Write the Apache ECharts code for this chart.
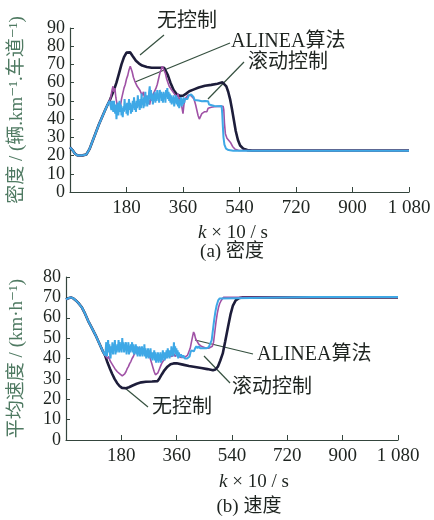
<!DOCTYPE html>
<html>
<head>
<meta charset="utf-8">
<script src="https://cdn.jsdelivr.net/npm/echarts@6/dist/echarts.min.js"></script>
<style>
  html, body { margin: 0; padding: 0; background: #fff; }
  #chart { width: 434px; height: 520px; }
</style>
</head>
<body>
<div id="chart"></div>
<script>
// x: k (×10 s), y: 密度 / 平均速度
const xTicks = [0, 180, 360, 540, 720, 900, 1080];

// (a) 密度 —— 三条曲线共同的起始段
const densStart = [[0,24.5],[8,23],[16,21],[25,20],[40,20.1],[52,20.6],[62,23.5],[72,28],[82,32.5],[92,37],[102,41],[112,45],[120,48],[126,50]];
const densNone = [[132,52.5],[140,56],[148,60],[156,65],[164,70],[172,74],[180,76.5],[186,77.2],[192,76.6],[200,74.5],[210,72],[220,70.5],[230,69.4],[245,68.6],[260,68.2],[280,68.2],[300,68.2],[306,67.5],[312,64],[320,60],[330,56],[340,53.6],[350,52.8],[360,52.8],[370,54],[380,55.3],[395,56.3],[410,57.3],[430,58.3],[450,58.8],[470,59.4],[486,60.2],[492,59.8],[498,58],[504,55],[510,51],[516,45.5],[522,39.5],[528,33.5],[535,28.5],[542,25.5],[552,23.8],[565,23],[580,22.8],[800,22.8],[1080,22.8]];
const densAlinea = [[130,52],[134,56],[137,58],[140,55],[143,57],[146,52],[150,48],[154,45],[157,49],[160,46],[164,51],[168,54],[172,57],[176,59],[180,62],[184,64],[188,67],[192,69],[195,68],[198,66],[202,63],[206,61],[210,62],[214,58],[218,59],[222,56],[226,57],[230,53],[234,55],[238,51],[242,53],[246,49],[250,51],[254,48],[258,52],[262,50],[266,54],[270,53],[274,57],[278,59],[282,62],[286,65],[290,67],[294,69],[297,70],[300,68],[304,65],[308,62],[312,60],[316,58],[320,59],[324,56],[328,57],[332,54],[336,55],[340,52],[344,54],[348,50],[352,52],[356,47],[360,43],[363,48],[366,51],[370,52],[375,53],[380,52.5],[385,53],[390,52],[395,51],[400,48],[404,45],[408,42],[412,40],[416,41],[420,43],[424,42],[428,44],[432,45],[436,44],[440,46],[450,46.5],[460,46.8],[470,47],[488,47],[490,45],[492,38],[495,32],[500,29.5],[506,28.5],[512,27],[518,25],[526,23.5],[538,22.8],[800,22.8],[1080,22.8]];
const densRolling = [[128,49],[130,51],[132,45],[134,50],[136,47],[138,44],[140,50],[142,46],[144,43],[146,48],[148,40],[150,46],[152,49],[154,42],[156,47],[158,50],[160,44],[162,48],[164,42],[166,46],[168,41],[170,47],[172,44],[174,51],[176,45],[178,48],[180,43],[182,49],[184,42],[186,47],[188,51],[190,45],[192,49],[194,43],[196,48],[198,44],[200,50],[202,46],[204,52],[206,45],[208,49],[210,44],[212,50],[214,46],[216,53],[218,47],[220,50],[222,45],[224,51],[226,46],[228,54],[230,48],[232,51],[234,46],[236,52],[238,47],[240,55],[242,49],[244,52],[246,47],[248,53],[250,48],[252,55],[254,58],[256,51],[258,56],[260,50],[262,54],[264,48],[266,53],[268,50],[270,55],[272,49],[274,54],[276,50],[278,56],[280,51],[282,54],[284,49],[286,56],[288,52],[290,55],[292,50],[294,54],[296,49],[298,55],[300,51],[302,54],[304,49],[306,56],[308,52],[310,57],[312,51],[314,55],[316,50],[318,54],[320,49],[322,53],[324,48],[326,52],[328,49],[330,53],[332,47],[334,52],[336,49],[338,53],[340,48],[342,52],[344,47],[346,51],[348,46],[350,50],[352,48],[354,52],[356,47],[358,51],[360,48],[362,52],[364,49],[366,51],[368,50],[370,52],[374,51],[378,53],[382,52],[386,53.5],[390,53],[394,52],[397,50.5],[400,50],[410,50.2],[420,49.8],[430,50],[440,49.8],[443,48],[446,47],[460,47.2],[470,47],[483,47.2],[485,43],[487,36],[489,30],[492,26],[497,23.8],[505,23],[520,22.6],[800,22.6],[1080,22.6]];

// (b) 速度 —— 共同起始段
const spdStart = [[0,69],[8,69.6],[16,70],[24,69.5],[32,68.5],[40,67.3],[52,65],[62,62],[72,58.5],[84,55],[96,51.5],[111,46.5],[120,43.5],[127,41.5]];
const spdNone = [[135,38],[143,35],[150,32.5],[158,30],[166,28],[174,26.5],[182,25.6],[188,25.3],[195,25.4],[205,25.9],[215,26.6],[230,27.6],[245,28.3],[260,28.6],[280,28.7],[298,28.9],[304,30.2],[312,32.3],[320,34.2],[330,36],[340,37.2],[350,37.6],[360,37.7],[380,37],[400,36.3],[420,35.8],[440,35.3],[460,34.8],[478,34.2],[486,34.6],[494,36],[502,39],[510,42.5],[518,48.5],[527,55.5],[535,61.5],[543,66],[552,68.5],[564,69.7],[575,70],[800,70],[1080,70]];
const spdAlinea = [[131,42],[135,40],[139,41],[143,39],[147,38],[151,37],[155,36],[159,35],[163,34.5],[167,33.5],[171,33],[175,32.5],[179,31.8],[183,31.5],[187,31.8],[191,32.5],[195,33.5],[199,35],[203,36],[207,37.5],[211,38.5],[215,40],[219,41],[223,42.5],[227,43],[231,44.5],[235,44],[239,45.5],[243,44],[247,45],[251,43],[255,44],[259,42],[263,43.5],[267,41],[271,42],[275,39.5],[279,37.5],[283,35.5],[287,33.5],[291,32],[295,31.8],[299,33],[303,34.5],[307,36],[311,37.5],[315,38.5],[320,39.5],[325,40.5],[330,41],[335,41.5],[340,42],[345,41],[350,42.5],[355,41],[360,42],[365,41],[370,41.5],[375,40.5],[380,41],[385,40.5],[390,41],[395,41.5],[400,42],[404,45],[408,48],[412,51],[415,53],[418,52],[421,50],[424,49],[428,48],[432,47],[436,46.5],[440,46],[448,45.5],[456,45],[464,45],[470,45.5],[476,46],[480,48],[484,53],[488,58],[492,62],[496,65],[500,67],[505,68.5],[512,70],[800,70],[1080,70]];
const spdRolling = [[129,44],[131,48],[133,41],[135,46],[137,49],[139,43],[141,47],[143,42],[145,40],[147,46],[149,43],[151,48],[153,42],[155,47],[157,44],[159,49],[161,42],[163,46],[165,43],[167,47],[169,44],[171,49],[173,43],[175,48],[177,44],[179,47],[181,43],[183,50],[185,45],[187,48],[189,43],[191,47],[193,44],[195,48],[197,42],[199,46],[201,44],[203,48],[205,42],[207,46],[209,43],[211,47],[213,44],[215,48],[217,43],[219,47],[221,42],[223,46],[225,43],[227,47],[229,42],[231,46],[233,41],[235,45],[237,42],[239,46],[241,41],[243,45],[245,42],[247,46],[249,41],[251,45],[253,42],[255,47],[257,41],[259,45],[261,40],[263,44],[265,41],[267,45],[269,40],[271,44],[273,41],[275,45],[277,40],[279,43],[281,39],[283,43],[285,40],[287,44],[289,39],[291,43],[293,38],[295,42],[297,39],[299,43],[301,38],[303,42],[305,39],[307,43],[309,38],[311,42],[313,39],[315,44],[317,40],[319,43],[321,39],[323,43],[325,40],[327,44],[329,40],[331,45],[333,41],[335,44],[337,40],[339,44],[341,41],[343,46],[345,42],[347,45],[349,41],[351,48],[353,43],[355,46],[357,42],[359,45],[361,41],[363,44],[365,40],[367,43],[370,41],[374,42],[378,40.5],[382,41.5],[386,40],[390,40.5],[394,40],[398,40.5],[402,41],[405,43],[408,44],[412,44.5],[416,43.5],[420,45],[424,46],[428,45],[432,46],[436,45],[440,45.5],[448,45],[456,45],[464,45.5],[470,46],[474,49],[478,54],[482,59],[486,63],[490,66],[495,68.5],[500,69.5],[506,70.2],[800,70.2],[1080,70.2]];

const cBlack = '#1d1d3a', cPurple = '#a052a6', cBlue = '#3ea8e6';
const axisColor = '#34453d', textColor = '#1e2420', nameColor = '#4f7a62', leaderColor = '#35503f';
const serif = '"Liberation Serif", "DejaVu Serif", "Noto Sans CJK SC", serif';

function xAxisOf(gridIndex) {
  return {
    gridIndex: gridIndex, type: 'value', min: 0, max: 1080, interval: 180,
    axisLine: { lineStyle: { color: axisColor, width: 1.2 } },
    axisTick: { inside: true, length: 5, lineStyle: { color: axisColor } },
    axisLabel: {
      showMinLabel: false, showMaxLabel: true, hideOverlap: false,
      color: textColor, fontFamily: serif, fontSize: 19, margin: 7,
      formatter: function (v) { return v === 1080 ? '1 080' : String(v); }
    },
    splitLine: { show: false }
  };
}
function yAxisOf(gridIndex, max, name, gap) {
  return {
    gridIndex: gridIndex, type: 'value', min: 0, max: max, interval: 10,
    name: name, nameLocation: 'middle', nameGap: gap,
    nameTextStyle: { color: nameColor, fontFamily: serif, fontSize: 19 },
    axisLine: { show: true, lineStyle: { color: axisColor, width: 1.2 } },
    axisTick: { inside: true, length: 4, lineStyle: { color: axisColor } },
    axisLabel: {
      showMinLabel: true, showMaxLabel: true, hideOverlap: false,
      color: textColor, fontFamily: serif, fontSize: 18, margin: 5, lineHeight: 12
    },
    splitLine: { show: false }
  };
}
function line(name, data, color, width, xi) {
  return {
    name: name, type: 'line', xAxisIndex: xi, yAxisIndex: xi, data: data,
    showSymbol: false, animation: false, lineStyle: { color: color, width: width }
  };
}
function text(x, y, str, size, align) {
  return { type: 'text', x: x, y: y, style: { text: str, fill: textColor, font: size + 'px ' + serif, textAlign: align || 'left', textVerticalAlign: 'middle' } };
}
function rich(x, y, str) {
  return { type: 'text', x: x, y: y, style: {
    text: str, fill: textColor, font: '19px ' + serif, textAlign: 'center', textVerticalAlign: 'middle',
    rich: { i: { fontStyle: 'italic', fontFamily: serif, fontSize: 19, fill: textColor } }
  } };
}
function leader(x1, y1, x2, y2) {
  return { type: 'line', shape: { x1: x1, y1: y1, x2: x2, y2: y2 }, style: { stroke: leaderColor, lineWidth: 1.2 } };
}

const chart = echarts.init(document.getElementById('chart'));
chart.setOption({
  backgroundColor: '#fff',
  animation: false,
  grid: [
    { left: 68, top: 28, width: 341, height: 164 },
    { left: 64, top: 277, width: 334, height: 163 }
  ],
  xAxis: [xAxisOf(0), xAxisOf(1)],
  yAxis: [
    yAxisOf(0, 90, '密度 / (辆.km⁻¹.车道⁻¹)', 43),
    yAxisOf(1, 80, '平均速度 / (km·h⁻¹)', 39)
  ],
  series: [
    line('无控制', densStart.concat(densNone), cBlack, 2.6, 0),
    line('ALINEA算法', densStart.concat(densAlinea), cPurple, 1.6, 0),
    line('滚动控制', densStart.concat(densRolling), cBlue, 2, 0),
    line('无控制', spdStart.concat(spdNone), cBlack, 2.6, 1),
    line('ALINEA算法', spdStart.concat(spdAlinea), cPurple, 1.6, 1),
    line('滚动控制', spdStart.concat(spdRolling), cBlue, 2, 1)
  ],
  graphic: [
    leader(140, 55, 164, 35), text(157, 22, '无控制', 20),
    leader(135, 82, 230, 43), text(231, 42, 'ALINEA算法', 20),
    leader(208, 99, 244, 62), text(248, 63, '滚动控制', 20),
    rich(233, 233, '{i|k} × 10 / s'), text(232, 252, '(a) 密度', 19, 'center'),
    leader(195, 340, 253, 354), text(257, 355, 'ALINEA算法', 20),
    leader(204, 356, 230, 383), text(232, 388, '滚动控制', 20),
    leader(125, 388, 148, 407), text(152, 408, '无控制', 20),
    rich(254, 482, '{i|k} × 10 / s'), text(249, 507, '(b) 速度', 19, 'center')
  ]
});
</script>
</body>
</html>
